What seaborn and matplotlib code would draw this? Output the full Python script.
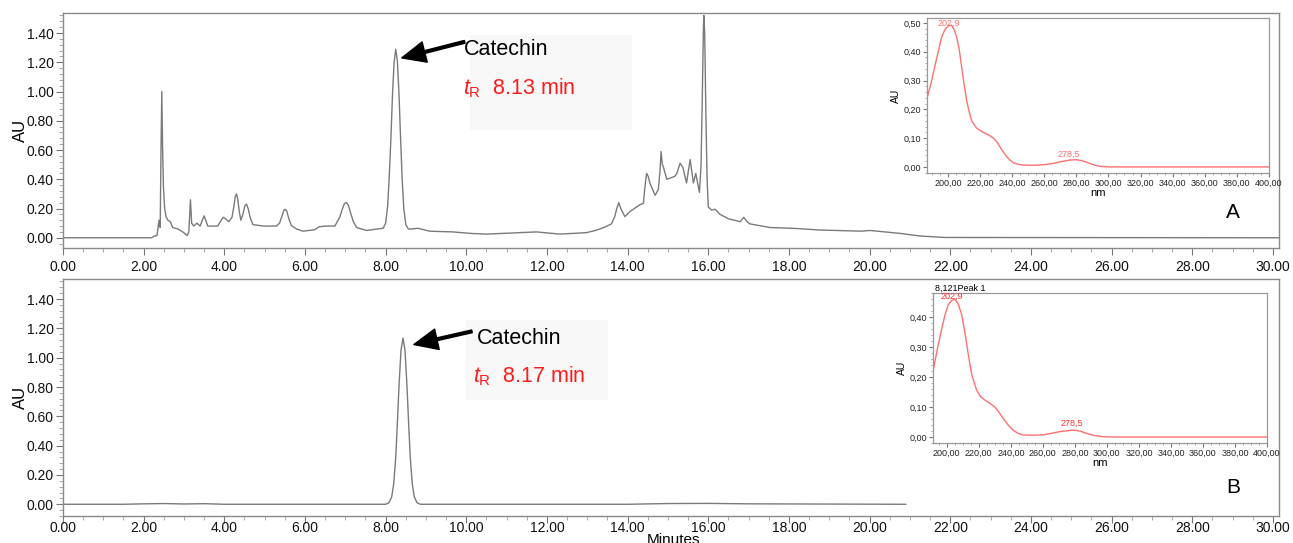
import seaborn as sns
import matplotlib.pyplot as plt
from matplotlib.ticker import MultipleLocator, FuncFormatter, FormatStrFormatter
from matplotlib.patches import Rectangle

# chromatogram A (extract), time in minutes / absorbance in AU
time_a = [0.00, 2.20, 2.25, 2.33, 2.38, 2.41, 2.43, 2.45, 2.47, 2.49, 2.52, 2.56, 2.60, 2.66, 2.72,
          2.85, 2.97, 3.08, 3.12, 3.16, 3.19, 3.24, 3.32, 3.40, 3.44, 3.50, 3.54, 3.59, 3.84,
          3.90, 3.97, 4.03, 4.11, 4.19, 4.24, 4.27, 4.30, 4.33, 4.37, 4.41, 4.46, 4.51, 4.55,
          4.59, 4.65, 4.71, 4.96, 5.29, 5.37, 5.43, 5.48, 5.51, 5.55, 5.60, 5.66, 5.79, 5.95,
          6.24, 6.35, 6.50, 6.74, 6.86, 6.93, 6.98, 7.03, 7.08, 7.13, 7.20, 7.28, 7.52, 7.94,
          8.00, 8.05, 8.09, 8.13, 8.17, 8.21, 8.25, 8.29, 8.33, 8.37, 8.41, 8.45, 8.50, 8.56,
          8.65, 8.80, 9.09, 9.67, 10.09, 10.50, 10.91, 11.74, 12.32, 12.98, 13.20, 13.31, 13.45,
          13.60, 13.68, 13.73, 13.78, 13.83, 13.93, 14.06, 14.30, 14.39, 14.43, 14.47, 14.51,
          14.55, 14.68, 14.76, 14.80, 14.83, 14.86, 14.88, 14.97, 15.17, 15.22, 15.30, 15.37,
          15.46, 15.55, 15.63, 15.69, 15.78, 15.82, 15.85, 15.88, 15.89, 15.91, 15.94, 15.97,
          16.00, 16.08, 16.17, 16.29, 16.50, 16.79, 16.88, 16.96, 17.03, 17.53, 18.15, 18.77,
          19.80, 20.01, 20.75, 21.25, 21.87, 30.15]
au_a = [0.000, 0.000, 0.010, 0.015, 0.120, 0.070, 0.600, 1.000, 0.600, 0.350, 0.200, 0.140, 0.120, 0.110, 0.070,
        0.060, 0.040, 0.015, 0.040, 0.260, 0.100, 0.080, 0.100, 0.080, 0.110, 0.150, 0.120, 0.080, 0.080,
        0.110, 0.140, 0.130, 0.110, 0.140, 0.220, 0.280, 0.300, 0.270, 0.180, 0.120, 0.160, 0.220, 0.230,
        0.200, 0.130, 0.090, 0.080, 0.080, 0.100, 0.150, 0.190, 0.195, 0.180, 0.130, 0.085, 0.060, 0.045,
        0.055, 0.075, 0.080, 0.080, 0.140, 0.200, 0.235, 0.240, 0.220, 0.170, 0.110, 0.070, 0.050, 0.065,
        0.100, 0.220, 0.420, 0.680, 0.980, 1.200, 1.290, 1.210, 0.990, 0.680, 0.400, 0.200, 0.090, 0.060,
        0.060, 0.065, 0.045, 0.040, 0.030, 0.025, 0.030, 0.040, 0.025, 0.035, 0.050, 0.060, 0.075,
        0.095, 0.145, 0.200, 0.240, 0.200, 0.145, 0.180, 0.225, 0.235, 0.350, 0.440, 0.420,
        0.375, 0.290, 0.330, 0.450, 0.590, 0.500, 0.490, 0.400, 0.420, 0.440, 0.510, 0.480,
        0.375, 0.535, 0.375, 0.440, 0.310, 0.500, 0.950, 1.450, 1.520, 1.400, 0.850, 0.400,
        0.210, 0.190, 0.195, 0.160, 0.130, 0.110, 0.140, 0.110, 0.095, 0.070, 0.064, 0.053,
        0.045, 0.050, 0.030, 0.012, 0.002, 0.000]

# chromatogram B (catechin standard)
time_b = [0.00, 1.50, 2.00, 2.50, 3.00, 3.50, 4.00, 8.00, 8.08, 8.15, 8.20, 8.25, 8.29, 8.33,
          8.38, 8.43, 8.48, 8.53, 8.57, 8.61, 8.66, 8.71, 8.78, 8.86, 14.00, 15.00, 16.00,
          17.00, 20.90]
au_b = [0.000, 0.000, 0.003, 0.005, 0.002, 0.004, 0.000, 0.000, 0.010, 0.050, 0.140, 0.320, 0.550, 0.800,
        1.050, 1.134, 1.050, 0.800, 0.550, 0.320, 0.140, 0.050, 0.010, 0.000, 0.000, 0.005, 0.006,
        0.003, 0.000]

# UV spectra of the catechin peak
nm_a = [187.1, 189.5, 191.9, 194.0, 196.1, 198.0, 200.2, 202.3, 204.0, 205.5, 207.0, 208.5,
        210.0, 211.7, 213.3, 214.8, 216.5, 217.9, 220.5, 223.1, 225.7, 228.3, 230.5, 232.4,
        234.5, 236.6, 238.7, 240.7, 243.0, 245.9, 250.0, 255.3, 260.0, 265.6, 270.0, 276.0,
        280.2, 284.0, 288.5, 291.5, 294.7, 300.9, 400.0]
spec_a = [0.240, 0.290, 0.350, 0.400, 0.450, 0.475, 0.490, 0.492, 0.475, 0.450, 0.410, 0.350,
          0.290, 0.230, 0.190, 0.160, 0.145, 0.135, 0.125, 0.117, 0.110, 0.100, 0.087, 0.070,
          0.052, 0.036, 0.024, 0.015, 0.010, 0.007, 0.006, 0.006, 0.008, 0.012, 0.018, 0.024,
          0.025, 0.021, 0.012, 0.006, 0.002, 0.000, 0.000]
nm_b = [191.4, 194.0, 196.7, 198.8, 200.8, 203.0, 205.0, 207.0, 209.2, 211.3, 213.3, 215.5,
        218.6, 221.0, 223.8, 227.0, 230.0, 232.6, 235.2, 238.3, 241.4, 244.5, 247.7, 254.0,
        260.2, 265.0, 270.6, 279.0, 283.0, 287.3, 292.0, 297.7, 305.0, 400.0]
spec_b = [0.218, 0.290, 0.357, 0.405, 0.440, 0.455, 0.459, 0.445, 0.410, 0.350, 0.280, 0.210,
          0.157, 0.135, 0.123, 0.112, 0.100, 0.083, 0.062, 0.040, 0.023, 0.012, 0.007, 0.006,
          0.007, 0.012, 0.018, 0.023, 0.020, 0.012, 0.005, 0.001, 0.000, 0.000]

sns.set_style('ticks')
plt.rcParams['font.family'] = ['Liberation Sans', 'DejaVu Sans']
plt.rcParams['text.color'] = 'black'
plt.rcParams['axes.labelcolor'] = 'black'
plt.rcParams['mathtext.fontset'] = 'custom'
plt.rcParams['mathtext.rm'] = 'Liberation Sans'
plt.rcParams['mathtext.it'] = 'Liberation Sans:italic'

W, H = 1293, 543
fig = plt.figure(figsize=(W / 100, H / 100), dpi=100)


def px_axes(left, top, right, bottom):
    return fig.add_axes([left / W, 1 - bottom / H, (right - left) / W, (bottom - top) / H])


def style_main(ax, ylo, xpad):
    ax.set_xlim(0, 30.15)
    ax.set_ylim(ylo, 1.537)
    ax.xaxis.set_major_locator(MultipleLocator(2))
    ax.xaxis.set_minor_locator(MultipleLocator(0.5))
    ax.yaxis.set_major_locator(MultipleLocator(0.2))
    ax.yaxis.set_minor_locator(MultipleLocator(0.04))
    ax.xaxis.set_major_formatter(FormatStrFormatter('%.2f'))
    ax.yaxis.set_major_formatter(FormatStrFormatter('%.2f'))
    for s in ax.spines.values():
        s.set_color('#8a8a8a')
        s.set_linewidth(1)
    ax.tick_params(which='major', length=5, color='#777777', labelsize=10, pad=1.5, labelcolor='#111111')
    ax.tick_params(axis='x', which='major', pad=xpad)
    ax.tick_params(which='minor', length=3, color='#999999')
    ax.set_xlabel('')
    ax.set_ylabel('')


def style_inset(ax, xlo, ylo, yhi):
    ax.set_xlim(xlo, 400)
    ax.set_ylim(ylo, yhi)
    ax.xaxis.set_major_locator(MultipleLocator(20))
    ax.xaxis.set_minor_locator(MultipleLocator(5))
    ax.yaxis.set_major_locator(MultipleLocator(0.1))
    ax.yaxis.set_minor_locator(MultipleLocator(0.02))
    comma = FuncFormatter(lambda v, p: f'{v:.2f}'.replace('.', ','))
    ax.xaxis.set_major_formatter(comma)
    ax.yaxis.set_major_formatter(comma)
    for s in ax.spines.values():
        s.set_color('#999999')
        s.set_linewidth(0.9)
    ax.tick_params(which='major', length=3, color='#777777', labelsize=6.5, pad=1, labelcolor='#222222')
    ax.tick_params(which='minor', length=1.5, color='#999999')
    ax.set_xlabel('nm', fontsize=8, labelpad=0)
    ax.set_ylabel('AU', fontsize=7.5, labelpad=2)


def faint_box(ax, l, t, r, b):
    ax.add_patch(Rectangle((l / W, 1 - b / H), (r - l) / W, (b - t) / H,
                           transform=fig.transFigure, facecolor='#f8f8f8',
                           edgecolor='none', zorder=0.5, clip_on=False))


# ---- panel A
ax1 = px_axes(63, 13, 1279, 248)
faint_box(ax1, 470, 35, 632, 130)
sns.lineplot(x=time_a, y=au_a, ax=ax1, color='#7a7a7a', lw=1, sort=False, estimator=None, zorder=2)
style_main(ax1, -0.07, 4)
ax1.annotate('', xy=(8.40, 1.23), xytext=(9.96, 1.34), zorder=4,
             arrowprops=dict(facecolor='black', edgecolor='black', width=2, headwidth=15, headlength=17))
ax1.text(9.93, 1.286, 'Catechin', fontsize=15.5, va='center', ha='left', zorder=5)
ax1.text(9.93, 1.025, r'$t_\mathrm{R}$  8.13 min', fontsize=15.5, va='center', ha='left',
         color='#ff1a1a', zorder=5)
ax1.text(0.962, 0.149, 'A', transform=ax1.transAxes, fontsize=15, ha='center', va='center')

# ---- panel B
ax2 = px_axes(63, 279, 1279, 516)
faint_box(ax2, 465, 320, 608, 400)
sns.lineplot(x=time_b, y=au_b, ax=ax2, color='#7a7a7a', lw=1, sort=False, estimator=None, zorder=2)
style_main(ax2, -0.08, -1.5)
ax2.annotate('', xy=(8.70, 1.09), xytext=(10.14, 1.18), zorder=4,
             arrowprops=dict(facecolor='black', edgecolor='black', width=2, headwidth=15, headlength=17))
ax2.text(10.26, 1.13, 'Catechin', fontsize=15.5, va='center', ha='left', zorder=5)
ax2.text(10.16, 0.877, r'$t_\mathrm{R}$  8.17 min', fontsize=15.5, va='center', ha='left',
         color='#ff1a1a', zorder=5)
ax2.text(0.962, 0.122, 'B', transform=ax2.transAxes, fontsize=15, ha='center', va='center')

fig.text(20 / W, 1 - 130 / H, 'AU', rotation=90, fontsize=12, ha='center', va='center')
fig.text(20 / W, 1 - 397 / H, 'AU', rotation=90, fontsize=12, ha='center', va='center')
fig.text(673 / W, 1 - 540 / H, 'Minutes', fontsize=11, ha='center', va='center')

# ---- inset spectra
spec_color = '#ff7070'
ins1 = px_axes(927, 18, 1269, 173)
sns.lineplot(x=nm_a, y=spec_a, ax=ins1, color=spec_color, lw=1, sort=False, estimator=None)
style_inset(ins1, 187, -0.021, 0.517)
ins1.text(200.5, 0.50, '202,9', fontsize=6.5, color=spec_color, ha='center', va='center')
ins1.text(275.6, 0.045, '278,5', fontsize=6.5, color=spec_color, ha='center', va='center')

ins2 = px_axes(933, 293, 1267, 443)
sns.lineplot(x=nm_b, y=spec_b, ax=ins2, color=spec_color, lw=1, sort=False, estimator=None)
style_inset(ins2, 191.4, -0.02, 0.48)
ins2.text(202.9, 0.47, '202,9', fontsize=6.5, color='#ff3030', ha='center', va='center')
ins2.text(278.3, 0.046, '278,5', fontsize=6.5, color='#ff3030', ha='center', va='center')
ins2.text(0.005, 1.0, '8,121Peak 1', transform=ins2.transAxes, fontsize=6.5, ha='left', va='bottom')

fig.savefig('out.png', dpi=100)
